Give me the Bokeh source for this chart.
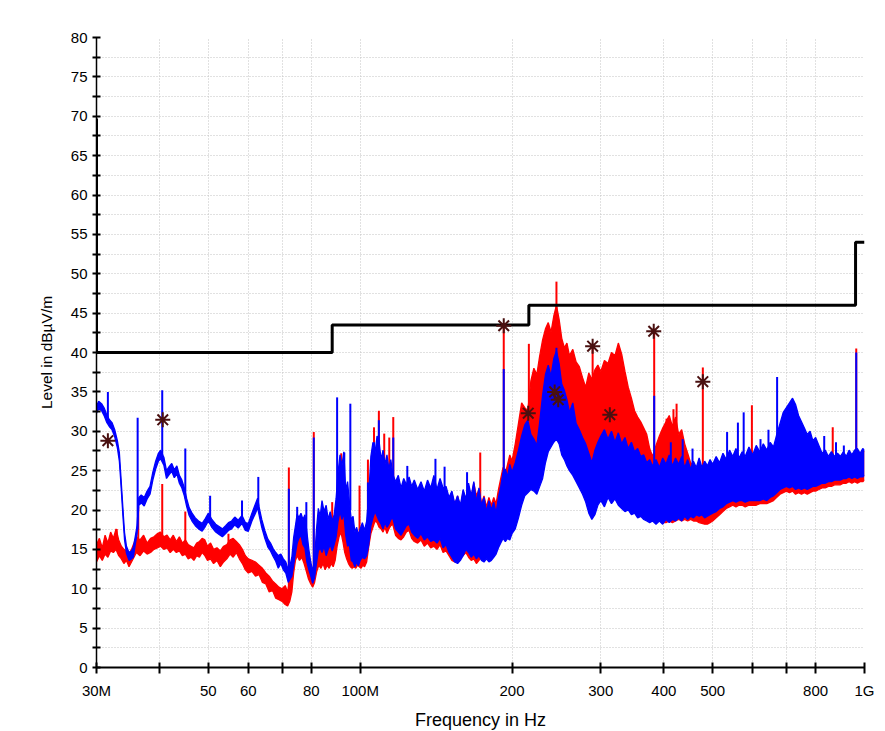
from bokeh.plotting import figure
from bokeh.models import FixedTicker
from bokeh.embed import file_html
from bokeh.resources import INLINE

# ---------------- data (frequency in MHz, level in dBuV/m) ----------------
X_TICKS = [30, 40, 50, 60, 70, 80, 100, 200, 300, 400, 500, 600, 700, 800, 1000]
X_LABELS = ["30M", "", "50", "60", "", "80", "100M", "200", "300", "400", "500", "", "", "800", "1G"]
Y_TICKS = [0, 2.5, 5, 7.5, 10, 12.5, 15, 17.5, 20, 22.5, 25, 27.5, 30, 32.5, 35, 37.5, 40,
           42.5, 45, 47.5, 50, 52.5, 55, 57.5, 60, 62.5, 65, 67.5, 70, 72.5, 75, 77.5, 80]
Y_LABELS = ["0", "", "5", "", "10", "", "15", "", "20", "", "25", "", "30", "", "35", "", "40",
            "", "45", "", "50", "", "55", "", "60", "", "65", "", "70", "", "75", "", "80"]

LIMIT_F = [30, 30, 88, 88, 216, 216, 960, 960, 1000]
LIMIT_L = [69.7, 40, 40, 43.5, 43.5, 46, 46, 54, 54]

# blue trace envelope: (freq, low, high)
BLUE_TRACE = [
    (30.0, 32.3, 33.2), (30.3, 32.9, 33.8), (30.7, 32.6, 33.5), (31.1, 31.9, 32.9), (31.4, 31.2, 32.2),
    (31.8, 30.6, 31.5), (32.2, 30.2, 31.1), (32.6, 29.3, 30.2), (33.0, 27.9, 28.8), (33.3, 26.2, 27.3),
    (33.5, 23.8, 24.7), (33.7, 21.2, 22.1), (33.9, 18.6, 19.5), (34.1, 16.2, 17.1), (34.4, 14.5, 15.4),
    (34.8, 13.6, 14.6), (35.2, 13.8, 14.8), (35.5, 14.0, 15.3), (35.8, 15.6, 16.6), (36.1, 17.0, 18.0),
    (36.4, 20.6, 21.6), (36.8, 20.9, 21.9), (37.3, 20.5, 21.6), (37.8, 21.4, 22.4), (38.3, 22.0, 23.0),
    (38.8, 23.8, 24.8), (39.3, 25.2, 26.2), (39.8, 26.2, 27.2), (40.2, 26.5, 27.6), (40.8, 25.7, 26.7),
    (41.3, 24.0, 25.0), (41.8, 24.5, 25.5), (42.3, 24.9, 25.9), (42.8, 24.1, 25.1), (43.3, 24.6, 25.6),
    (43.8, 23.4, 24.4), (44.3, 22.8, 23.8), (44.8, 21.8, 22.8), (45.3, 20.4, 21.4), (45.8, 19.3, 20.3),
    (46.4, 18.6, 19.6), (47.1, 18.0, 19.0), (47.8, 17.6, 18.6), (48.6, 17.3, 18.3), (49.3, 17.9, 18.9),
    (50.0, 18.6, 19.6), (50.8, 17.8, 18.8), (51.7, 17.2, 18.2), (52.5, 16.9, 17.9), (53.3, 16.6, 17.6),
    (54.1, 17.0, 18.0), (54.8, 17.4, 18.4), (55.6, 17.6, 18.6), (56.4, 18.1, 19.1), (57.3, 17.7, 18.7),
    (58.3, 18.3, 19.3), (59.2, 17.4, 18.4), (60.0, 17.3, 18.3), (61.0, 18.6, 19.6), (62.0, 19.6, 20.8),
    (62.6, 20.3, 21.5), (63.2, 19.0, 20.0), (63.8, 17.8, 18.8), (64.7, 16.4, 17.4), (65.6, 15.3, 16.3),
    (66.4, 14.8, 15.8), (67.2, 14.1, 15.1), (68.0, 13.5, 14.6), (68.8, 12.6, 14.2), (69.6, 13.2, 14.4),
    (70.4, 12.4, 13.8), (71.2, 12.0, 13.4), (72.0, 10.8, 12.4), (72.6, 11.2, 13.0), (73.2, 11.6, 14.0),
    (73.8, 13.0, 16.5), (74.4, 14.5, 18.0), (75.0, 15.8, 19.5), (75.6, 16.4, 19.0), (76.3, 16.8, 19.6),
    (77.0, 15.6, 18.8), (77.7, 15.2, 19.4), (78.4, 13.4, 17.2), (79.1, 12.4, 15.0), (79.8, 11.6, 13.4),
    (80.5, 10.7, 12.2), (81.2, 11.4, 13.8), (81.9, 13.2, 17.5), (82.6, 14.8, 20.2), (83.3, 15.2, 19.2),
    (84.0, 14.6, 21.2), (84.8, 15.4, 19.8), (85.6, 14.2, 20.6), (86.4, 15.0, 18.8), (87.2, 15.6, 19.8),
    (88.0, 14.8, 18.6), (88.8, 15.6, 19.4), (89.6, 16.6, 21.5), (90.4, 18.6, 24.8), (91.2, 19.8, 27.0),
    (92.0, 18.8, 25.6), (92.8, 19.6, 27.4), (93.6, 16.8, 22.5), (94.4, 15.4, 23.6), (95.2, 15.6, 21.0),
    (96.0, 13.6, 18.8), (96.8, 13.4, 19.2), (97.6, 12.8, 17.2), (98.4, 13.4, 17.8), (99.2, 12.9, 16.8),
    (100.0, 13.6, 17.6), (101.0, 14.0, 18.4), (102.0, 13.8, 17.4), (103.0, 14.2, 18.6), (104.0, 15.6, 22.0),
    (105.0, 18.0, 26.8), (106.0, 19.0, 28.6), (107.0, 19.8, 27.2), (108.0, 19.2, 29.4), (109.0, 18.6, 28.8),
    (110.0, 18.2, 26.4), (111.0, 17.6, 27.6), (112.0, 18.4, 25.8), (113.0, 17.8, 27.0), (114.0, 18.2, 25.2),
    (115.0, 18.8, 26.4), (116.0, 19.0, 24.6), (117.5, 17.6, 23.6), (119.0, 17.2, 24.4), (120.5, 16.8, 22.8),
    (122.0, 17.4, 24.0), (123.5, 18.0, 23.2), (125.0, 18.2, 24.2), (126.5, 17.2, 23.0), (128.0, 16.8, 23.8),
    (130.0, 16.4, 22.6), (132.0, 17.0, 23.6), (134.0, 16.2, 22.4), (136.0, 16.6, 23.8), (138.0, 16.0, 22.8),
    (140.0, 16.2, 24.4), (142.0, 15.8, 22.6), (144.0, 16.4, 24.0), (146.0, 15.2, 22.8), (148.0, 15.6, 23.0),
    (150.0, 14.6, 21.6), (152.0, 14.0, 22.4), (154.0, 13.4, 20.8), (156.0, 13.2, 21.8), (158.0, 13.6, 20.6),
    (160.0, 14.2, 22.6), (162.0, 15.0, 21.4), (164.0, 14.6, 23.4), (166.0, 14.0, 21.8), (168.0, 14.4, 23.6),
    (170.0, 13.8, 21.0), (172.0, 14.2, 22.8), (174.0, 13.6, 20.6), (176.0, 13.4, 21.6), (178.0, 13.8, 19.8),
    (180.0, 13.4, 21.2), (182.0, 13.6, 20.0), (184.0, 14.0, 21.0), (186.0, 14.4, 19.6), (188.0, 15.2, 21.6),
    (190.0, 15.8, 23.0), (192.0, 16.4, 24.8), (194.0, 16.0, 25.2), (196.0, 16.4, 24.2), (198.0, 16.2, 25.8),
    (200.0, 17.0, 24.8), (203.0, 17.6, 26.0), (206.0, 19.0, 27.6), (209.0, 20.6, 29.4), (212.0, 21.8, 30.8),
    (215.0, 22.2, 31.4), (218.0, 22.6, 29.6), (221.0, 22.4, 29.0), (224.0, 22.0, 28.2), (227.0, 23.0, 31.2),
    (230.0, 24.0, 34.6), (233.0, 26.0, 37.2), (236.0, 27.4, 38.4), (239.0, 28.0, 37.0), (242.0, 28.6, 39.2),
    (245.0, 29.0, 40.2), (248.0, 28.4, 38.6), (251.0, 27.0, 36.0), (254.0, 26.4, 35.2), (257.0, 25.6, 34.0),
    (260.0, 25.0, 32.4), (264.0, 24.4, 33.6), (268.0, 23.6, 31.0), (272.0, 22.8, 30.2), (276.0, 22.0, 29.2),
    (280.0, 21.0, 28.4), (284.0, 19.6, 27.2), (288.0, 18.8, 26.0), (292.0, 19.4, 27.6), (296.0, 20.6, 28.6),
    (300.0, 21.2, 29.4), (305.0, 20.4, 30.2), (310.0, 21.6, 29.0), (315.0, 20.8, 30.0), (320.0, 21.4, 28.6),
    (325.0, 20.6, 29.8), (330.0, 20.2, 28.4), (335.0, 19.8, 29.2), (340.0, 20.0, 27.8), (345.0, 19.4, 28.6),
    (350.0, 19.6, 27.4), (355.0, 19.0, 27.8), (360.0, 19.2, 26.8), (365.0, 18.8, 27.0), (370.0, 18.6, 26.0),
    (375.0, 18.4, 26.4), (380.0, 18.6, 25.6), (386.0, 18.2, 26.4), (392.0, 18.6, 25.4), (398.0, 18.2, 26.6),
    (404.0, 18.8, 25.8), (410.0, 18.4, 27.0), (416.0, 18.8, 25.6), (422.0, 18.6, 26.6), (428.0, 19.0, 25.8),
    (434.0, 18.6, 26.8), (440.0, 19.2, 25.4), (446.0, 18.8, 26.4), (452.0, 19.2, 25.2), (458.0, 19.0, 26.2),
    (464.0, 19.4, 25.4), (470.0, 19.2, 26.6), (476.0, 19.4, 25.4), (482.0, 19.0, 26.2), (488.0, 19.2, 25.6),
    (494.0, 19.4, 26.4), (500.0, 19.6, 25.8), (508.0, 19.8, 26.8), (516.0, 20.2, 26.0), (524.0, 20.4, 27.2),
    (532.0, 20.8, 26.4), (540.0, 21.0, 27.6), (548.0, 21.2, 26.8), (556.0, 21.0, 27.8), (564.0, 21.2, 26.6),
    (572.0, 21.2, 27.4), (580.0, 21.0, 26.8), (590.0, 21.2, 28.0), (600.0, 21.2, 27.0), (610.0, 21.2, 28.2),
    (620.0, 21.2, 27.4), (630.0, 21.4, 28.4), (640.0, 21.2, 27.6), (650.0, 21.6, 28.6), (660.0, 21.8, 28.0),
    (670.0, 22.2, 29.6), (680.0, 22.6, 31.0), (690.0, 22.8, 32.4), (700.0, 23.0, 33.0), (710.0, 22.8, 33.6),
    (720.0, 23.0, 34.2), (730.0, 22.6, 33.4), (740.0, 22.8, 32.0), (750.0, 22.6, 31.2), (760.0, 22.8, 30.4),
    (770.0, 22.6, 29.6), (780.0, 22.8, 30.0), (790.0, 23.0, 28.8), (800.0, 23.0, 29.2), (812.0, 23.2, 28.2),
    (824.0, 23.4, 27.2), (836.0, 23.4, 27.6), (848.0, 23.6, 26.8), (860.0, 23.6, 27.4), (872.0, 23.8, 26.8),
    (884.0, 23.8, 27.2), (896.0, 23.8, 26.8), (908.0, 24.0, 27.4), (920.0, 24.0, 26.8), (932.0, 24.2, 27.6),
    (944.0, 24.0, 27.0), (956.0, 24.2, 27.6), (968.0, 24.0, 27.8), (980.0, 24.2, 27.2), (992.0, 24.2, 27.8),
    (1000.0, 24.4, 27.6),
]

# red trace envelope: (freq, low, high)
RED_TRACE = [
    (30.0, 13.4, 15.6), (30.4, 14.2, 16.4), (30.8, 13.6, 15.2), (31.2, 14.4, 16.8), (31.6, 14.0, 15.8),
    (32.0, 14.8, 17.2), (32.4, 14.6, 16.4), (32.8, 15.0, 17.6), (33.2, 14.2, 16.2), (33.6, 13.8, 15.4),
    (34.0, 13.2, 15.0), (34.4, 13.6, 14.8), (34.8, 12.8, 14.4), (35.2, 13.4, 15.0), (35.6, 14.0, 15.8),
    (36.0, 14.6, 16.6), (36.6, 14.2, 16.2), (37.2, 14.8, 16.8), (37.8, 14.4, 15.8), (38.4, 14.6, 16.4),
    (39.0, 15.0, 16.6), (39.6, 15.2, 17.0), (40.2, 15.4, 17.2), (40.8, 15.0, 16.6), (41.4, 15.2, 16.8),
    (42.0, 14.6, 16.2), (42.6, 15.0, 16.8), (43.2, 14.6, 16.0), (43.8, 14.8, 16.6), (44.4, 14.2, 15.8),
    (45.0, 14.4, 16.2), (45.6, 13.8, 15.6), (46.2, 14.0, 15.4), (46.8, 13.6, 15.2), (47.4, 14.2, 15.8),
    (48.0, 14.0, 16.0), (48.6, 14.6, 16.4), (49.2, 14.2, 16.2), (49.8, 13.6, 15.4), (50.5, 13.8, 15.8),
    (51.2, 13.2, 15.0), (52.0, 13.6, 15.2), (52.8, 12.8, 14.8), (53.6, 13.4, 15.4), (54.4, 13.8, 15.6),
    (55.2, 14.4, 16.2), (56.0, 14.0, 16.4), (56.8, 14.6, 16.0), (57.6, 13.8, 15.6), (58.4, 13.2, 15.0),
    (59.2, 12.4, 14.2), (60.0, 12.0, 13.8), (61.0, 12.2, 13.6), (62.0, 11.6, 13.4), (63.0, 11.8, 13.0),
    (64.0, 10.8, 12.6), (65.0, 10.6, 12.0), (66.0, 9.6, 11.6), (67.0, 9.8, 11.0), (68.0, 8.8, 10.6),
    (69.0, 8.6, 10.2), (70.0, 8.4, 10.0), (71.0, 8.0, 10.4), (71.8, 7.8, 9.6), (72.5, 8.4, 11.2),
    (73.2, 9.6, 11.6), (73.8, 12.0, 15.0), (74.4, 13.6, 16.6), (75.0, 14.2, 17.4), (75.8, 13.6, 16.6),
    (76.6, 14.0, 17.0), (77.4, 13.2, 16.0), (78.2, 12.2, 15.2), (79.0, 11.2, 13.8), (79.8, 10.6, 12.6),
    (80.5, 10.2, 11.6), (81.2, 10.8, 12.8), (82.0, 12.2, 15.6), (82.8, 13.0, 17.0), (83.6, 12.6, 16.0),
    (84.4, 13.2, 16.8), (85.2, 12.4, 15.4), (86.0, 13.0, 16.2), (86.8, 12.6, 15.0), (87.6, 13.2, 16.4),
    (88.4, 12.8, 15.6), (89.2, 13.6, 17.2), (90.0, 15.4, 19.6), (90.8, 16.6, 23.0), (91.6, 17.2, 24.6),
    (92.4, 16.0, 22.4), (93.2, 14.6, 20.6), (94.0, 13.8, 19.4), (94.8, 13.2, 17.6), (95.6, 12.8, 16.8),
    (96.4, 12.6, 16.2), (97.2, 12.8, 15.4), (98.0, 12.6, 15.0), (98.8, 13.0, 16.0), (99.6, 12.8, 15.6),
    (100.4, 12.6, 15.2), (101.2, 13.0, 15.8), (102.0, 12.8, 16.0), (103.0, 13.4, 16.4), (104.0, 15.4, 20.6),
    (105.0, 17.0, 24.6), (106.0, 17.8, 26.2), (107.0, 18.6, 25.2), (108.0, 18.4, 27.6), (109.0, 17.8, 26.8),
    (110.0, 17.6, 24.8), (111.0, 17.2, 25.6), (112.0, 17.8, 24.2), (113.0, 17.0, 25.0), (114.0, 17.6, 23.8),
    (115.0, 18.0, 24.6), (116.0, 18.2, 23.4), (117.5, 16.8, 22.0), (119.0, 16.4, 22.8), (120.5, 16.2, 21.4),
    (122.0, 16.6, 22.6), (123.5, 17.2, 21.8), (125.0, 17.4, 22.8), (126.5, 16.4, 21.6), (128.0, 16.0, 22.2),
    (130.0, 15.8, 21.2), (132.0, 16.2, 22.4), (134.0, 15.4, 21.0), (136.0, 15.8, 22.6), (138.0, 15.2, 21.4),
    (140.0, 15.4, 22.8), (142.0, 15.0, 21.2), (144.0, 15.6, 22.6), (146.0, 14.6, 21.4), (148.0, 14.8, 22.4),
    (150.0, 14.2, 21.0), (152.0, 13.6, 22.2), (154.0, 13.4, 20.6), (156.0, 13.8, 21.8), (158.0, 14.0, 20.2),
    (160.0, 14.2, 22.4), (162.0, 14.6, 21.2), (164.0, 14.0, 23.0), (166.0, 13.6, 21.6), (168.0, 13.8, 23.4),
    (170.0, 13.2, 21.8), (172.0, 13.6, 22.6), (174.0, 14.0, 20.8), (176.0, 14.2, 21.8), (178.0, 14.6, 20.4),
    (180.0, 14.0, 21.6), (182.0, 14.4, 20.6), (184.0, 14.8, 21.6), (186.0, 15.4, 20.8), (188.0, 15.8, 22.6),
    (190.0, 16.2, 24.0), (192.0, 16.6, 25.4), (194.0, 16.4, 24.6), (196.0, 16.8, 25.8), (198.0, 17.2, 27.0),
    (200.0, 17.8, 26.2), (203.0, 19.0, 28.4), (206.0, 20.8, 31.0), (209.0, 22.6, 33.6), (212.0, 24.0, 33.0),
    (215.0, 24.4, 32.6), (218.0, 23.6, 36.4), (221.0, 23.0, 38.0), (224.0, 24.6, 37.2), (227.0, 26.8, 39.6),
    (230.0, 28.4, 41.6), (233.0, 29.6, 43.0), (236.0, 30.4, 43.8), (239.0, 31.0, 42.6), (242.0, 31.6, 44.6),
    (245.0, 32.2, 46.0), (248.0, 31.4, 44.2), (251.0, 30.0, 41.8), (254.0, 29.0, 40.6), (257.0, 28.0, 41.2),
    (260.0, 27.4, 39.6), (264.0, 26.4, 40.4), (268.0, 25.6, 38.8), (272.0, 24.8, 38.2), (276.0, 24.2, 36.8),
    (280.0, 24.6, 35.6), (284.0, 25.4, 37.4), (288.0, 26.0, 36.6), (292.0, 26.6, 37.8), (296.0, 26.2, 38.4),
    (300.0, 25.8, 37.6), (305.0, 25.6, 39.0), (310.0, 25.2, 38.6), (315.0, 24.8, 40.0), (320.0, 24.4, 39.6),
    (325.0, 24.0, 41.2), (330.0, 23.6, 39.8), (335.0, 23.0, 37.6), (340.0, 22.4, 35.6), (345.0, 22.0, 34.2),
    (350.0, 21.6, 32.6), (355.0, 21.0, 31.8), (360.0, 20.6, 31.2), (365.0, 20.2, 30.4), (370.0, 19.8, 29.6),
    (375.0, 19.4, 27.8), (380.0, 19.0, 26.8), (386.0, 18.8, 28.2), (392.0, 18.6, 29.4), (398.0, 18.4, 30.4),
    (404.0, 18.4, 31.2), (410.0, 18.6, 32.0), (416.0, 18.4, 30.6), (422.0, 18.6, 31.8), (428.0, 18.8, 29.6),
    (434.0, 18.6, 30.2), (440.0, 18.8, 28.4), (446.0, 18.6, 27.2), (452.0, 18.8, 26.0), (458.0, 18.6, 25.8),
    (464.0, 18.6, 25.0), (470.0, 18.4, 25.8), (476.0, 18.3, 25.0), (482.0, 18.2, 25.6), (488.0, 18.2, 24.8),
    (494.0, 18.4, 25.6), (500.0, 18.6, 25.0), (508.0, 19.0, 25.8), (516.0, 19.4, 25.2), (524.0, 19.8, 26.2),
    (532.0, 20.2, 25.6), (540.0, 20.4, 26.4), (548.0, 20.6, 25.8), (556.0, 20.4, 26.6), (564.0, 20.6, 25.6),
    (572.0, 20.6, 26.2), (580.0, 20.4, 25.8), (590.0, 20.6, 26.8), (600.0, 20.6, 26.0), (610.0, 20.6, 27.0),
    (620.0, 20.8, 26.4), (630.0, 20.8, 27.2), (640.0, 20.8, 26.6), (650.0, 21.0, 27.4), (660.0, 21.2, 27.0),
    (670.0, 21.6, 28.4), (680.0, 22.0, 29.8), (690.0, 22.2, 31.0), (700.0, 22.4, 31.6), (710.0, 22.2, 32.2),
    (720.0, 22.4, 32.8), (730.0, 22.0, 32.0), (740.0, 22.2, 30.8), (750.0, 22.0, 30.0), (760.0, 22.2, 29.2),
    (770.0, 22.0, 28.6), (780.0, 22.2, 29.0), (790.0, 22.4, 28.0), (800.0, 22.4, 28.4), (812.0, 22.6, 27.6),
    (824.0, 22.8, 26.8), (836.0, 22.8, 27.2), (848.0, 23.0, 26.4), (860.0, 23.0, 27.0), (872.0, 23.2, 26.6),
    (884.0, 23.2, 26.8), (896.0, 23.2, 26.4), (908.0, 23.4, 27.0), (920.0, 23.4, 26.6), (932.0, 23.6, 27.2),
    (944.0, 23.4, 26.8), (956.0, 23.6, 27.2), (968.0, 23.4, 27.6), (980.0, 23.6, 27.0), (992.0, 23.6, 27.6),
    (1000.0, 23.8, 27.4),
]

# narrow spikes: (freq, from, to)
BLUE_SPIKES = [
    (31.6, 31.0, 35.0), (36.2, 17.5, 31.7), (40.5, 27.0, 35.2), (45.0, 21.5, 27.8), (50.4, 19.0, 21.8),
    (58.3, 18.8, 21.2), (62.8, 20.5, 24.2), (72.2, 12.0, 22.7), (75.0, 18.5, 20.4), (78.2, 16.5, 21.0),
    (80.9, 12.0, 29.2), (90.0, 19.0, 34.3), (93.0, 20.0, 27.3), (95.6, 20.0, 33.5), (103.6, 17.0, 23.5),
    (106.5, 24.0, 28.6), (108.9, 24.0, 31.4), (116.3, 22.0, 29.2), (124.0, 20.0, 25.6), (141.0, 20.0, 26.5),
    (147.0, 20.0, 25.5), (162.9, 20.0, 24.8), (192.6, 18.0, 37.9), (245.0, 36.0, 40.6), (382.8, 22.0, 34.5),
    (413.0, 22.0, 28.6), (436.0, 22.0, 29.0), (456.0, 22.0, 27.8), (534.0, 24.0, 29.9), (561.0, 24.0, 31.1),
    (576.0, 24.0, 32.4), (622.0, 25.0, 29.0), (645.0, 25.0, 30.2), (671.0, 26.0, 36.9), (832.0, 25.0, 29.4),
    (878.0, 25.0, 28.6), (910.0, 25.0, 28.2), (963.0, 25.0, 40.0),
]
RED_SPIKES = [
    (32.9, 15.0, 17.6), (36.3, 15.5, 20.4), (40.5, 16.5, 23.3), (45.0, 15.5, 19.8), (54.8, 15.0, 17.0),
    (72.2, 10.0, 25.4), (80.9, 11.0, 29.9), (88.0, 15.0, 21.0), (91.7, 20.0, 27.2), (99.7, 15.0, 23.1),
    (103.6, 16.0, 26.4), (106.5, 24.0, 30.5), (108.9, 25.0, 32.6), (111.6, 24.0, 29.7), (114.2, 23.0, 29.2),
    (116.3, 22.0, 31.8), (173.0, 20.0, 27.3), (192.6, 20.0, 43.4), (216.0, 30.0, 41.1), (245.0, 44.0, 49.0),
    (289.0, 36.0, 40.8), (382.8, 26.0, 42.7), (405.0, 28.0, 31.6), (418.0, 28.0, 32.8), (424.0, 28.0, 33.5),
    (478.0, 24.0, 38.1), (598.0, 25.0, 33.3), (865.0, 25.0, 30.5), (963.0, 25.0, 40.5),
]

# detected peaks (final measurement markers)
PEAK_F = [31.6, 40.6, 192.6, 215.4, 243.0, 247.0, 289.0, 312.6, 382.0, 478.0]
PEAK_L = [28.8, 31.45, 43.4, 32.3, 35.0, 34.0, 40.8, 32.1, 42.7, 36.3]

RED = "#ff0000"
BLUE = "#0000ff"
FONT = "Liberation Sans"

# ---------------- figure ----------------
p = figure(x_axis_type="log", x_range=(30, 1000), y_range=(0, 80),
           frame_width=768, frame_height=630,
           min_border_left=96, min_border_right=14, min_border_top=37, min_border_bottom=56,
           output_backend="svg", toolbar_location=None,
           background_fill_color="white", border_fill_color="white")
p.outline_line_color = None

p.xaxis.ticker = FixedTicker(ticks=X_TICKS)
p.xaxis.major_label_overrides = dict(zip(X_TICKS, X_LABELS))
p.yaxis.ticker = FixedTicker(ticks=Y_TICKS)
p.yaxis.major_label_overrides = dict(zip(Y_TICKS, Y_LABELS))

for ax in (p.xaxis, p.yaxis):
    ax.minor_tick_line_color = None
    ax.axis_line_color = "black"
    ax.major_tick_line_color = "black"
    ax.major_tick_line_width = 2
    ax.major_label_text_color = "black"
    ax.major_label_text_font = FONT
    ax.major_label_text_font_size = "15px"
    ax.axis_label_text_font = FONT
    ax.axis_label_text_font_style = "normal"
    ax.axis_label_text_color = "black"

p.xaxis.axis_line_width = 2
p.xaxis.major_tick_in = 5
p.xaxis.major_tick_out = 6
p.xaxis.major_label_standoff = 8
p.xaxis.axis_label = "Frequency in Hz"
p.xaxis.axis_label_text_font_size = "18px"
p.xaxis.axis_label_standoff = 8

p.yaxis.axis_line_width = 1.5
p.yaxis.major_tick_in = 4
p.yaxis.major_tick_out = 4
p.yaxis.major_label_standoff = 5
p.yaxis.axis_label = "Level in dB\u00b5V/m"
p.yaxis.axis_label_text_font_size = "15.5px"
p.yaxis.axis_label_standoff = 13

p.grid.grid_line_color = "#c2c2c2"
p.grid.grid_line_dash = "1 2"
p.grid.grid_line_width = 1


def draw_trace(trace, spikes, color):
    f = [t[0] for t in trace]
    lo = [t[1] for t in trace]
    hi = [t[2] for t in trace]
    p.varea(x=f, y1=lo, y2=hi, fill_color=color)
    p.line(f, lo, line_color=color, line_width=1.3)
    p.line(f, hi, line_color=color, line_width=1.3)
    sf = [s[0] for s in spikes]
    s0 = [s[1] for s in spikes]
    s1 = [s[2] for s in spikes]
    p.segment(x0=sf, y0=s0, x1=sf, y1=s1, line_color=color, line_width=2)


draw_trace(RED_TRACE, RED_SPIKES, RED)
draw_trace(BLUE_TRACE, BLUE_SPIKES, BLUE)

p.line(LIMIT_F, LIMIT_L, line_color="black", line_width=3)

p.scatter(PEAK_F, PEAK_L, marker="asterisk", size=15, line_color="#4a1010", line_width=2)

open("out.html", "w").write(file_html(p, INLINE))
